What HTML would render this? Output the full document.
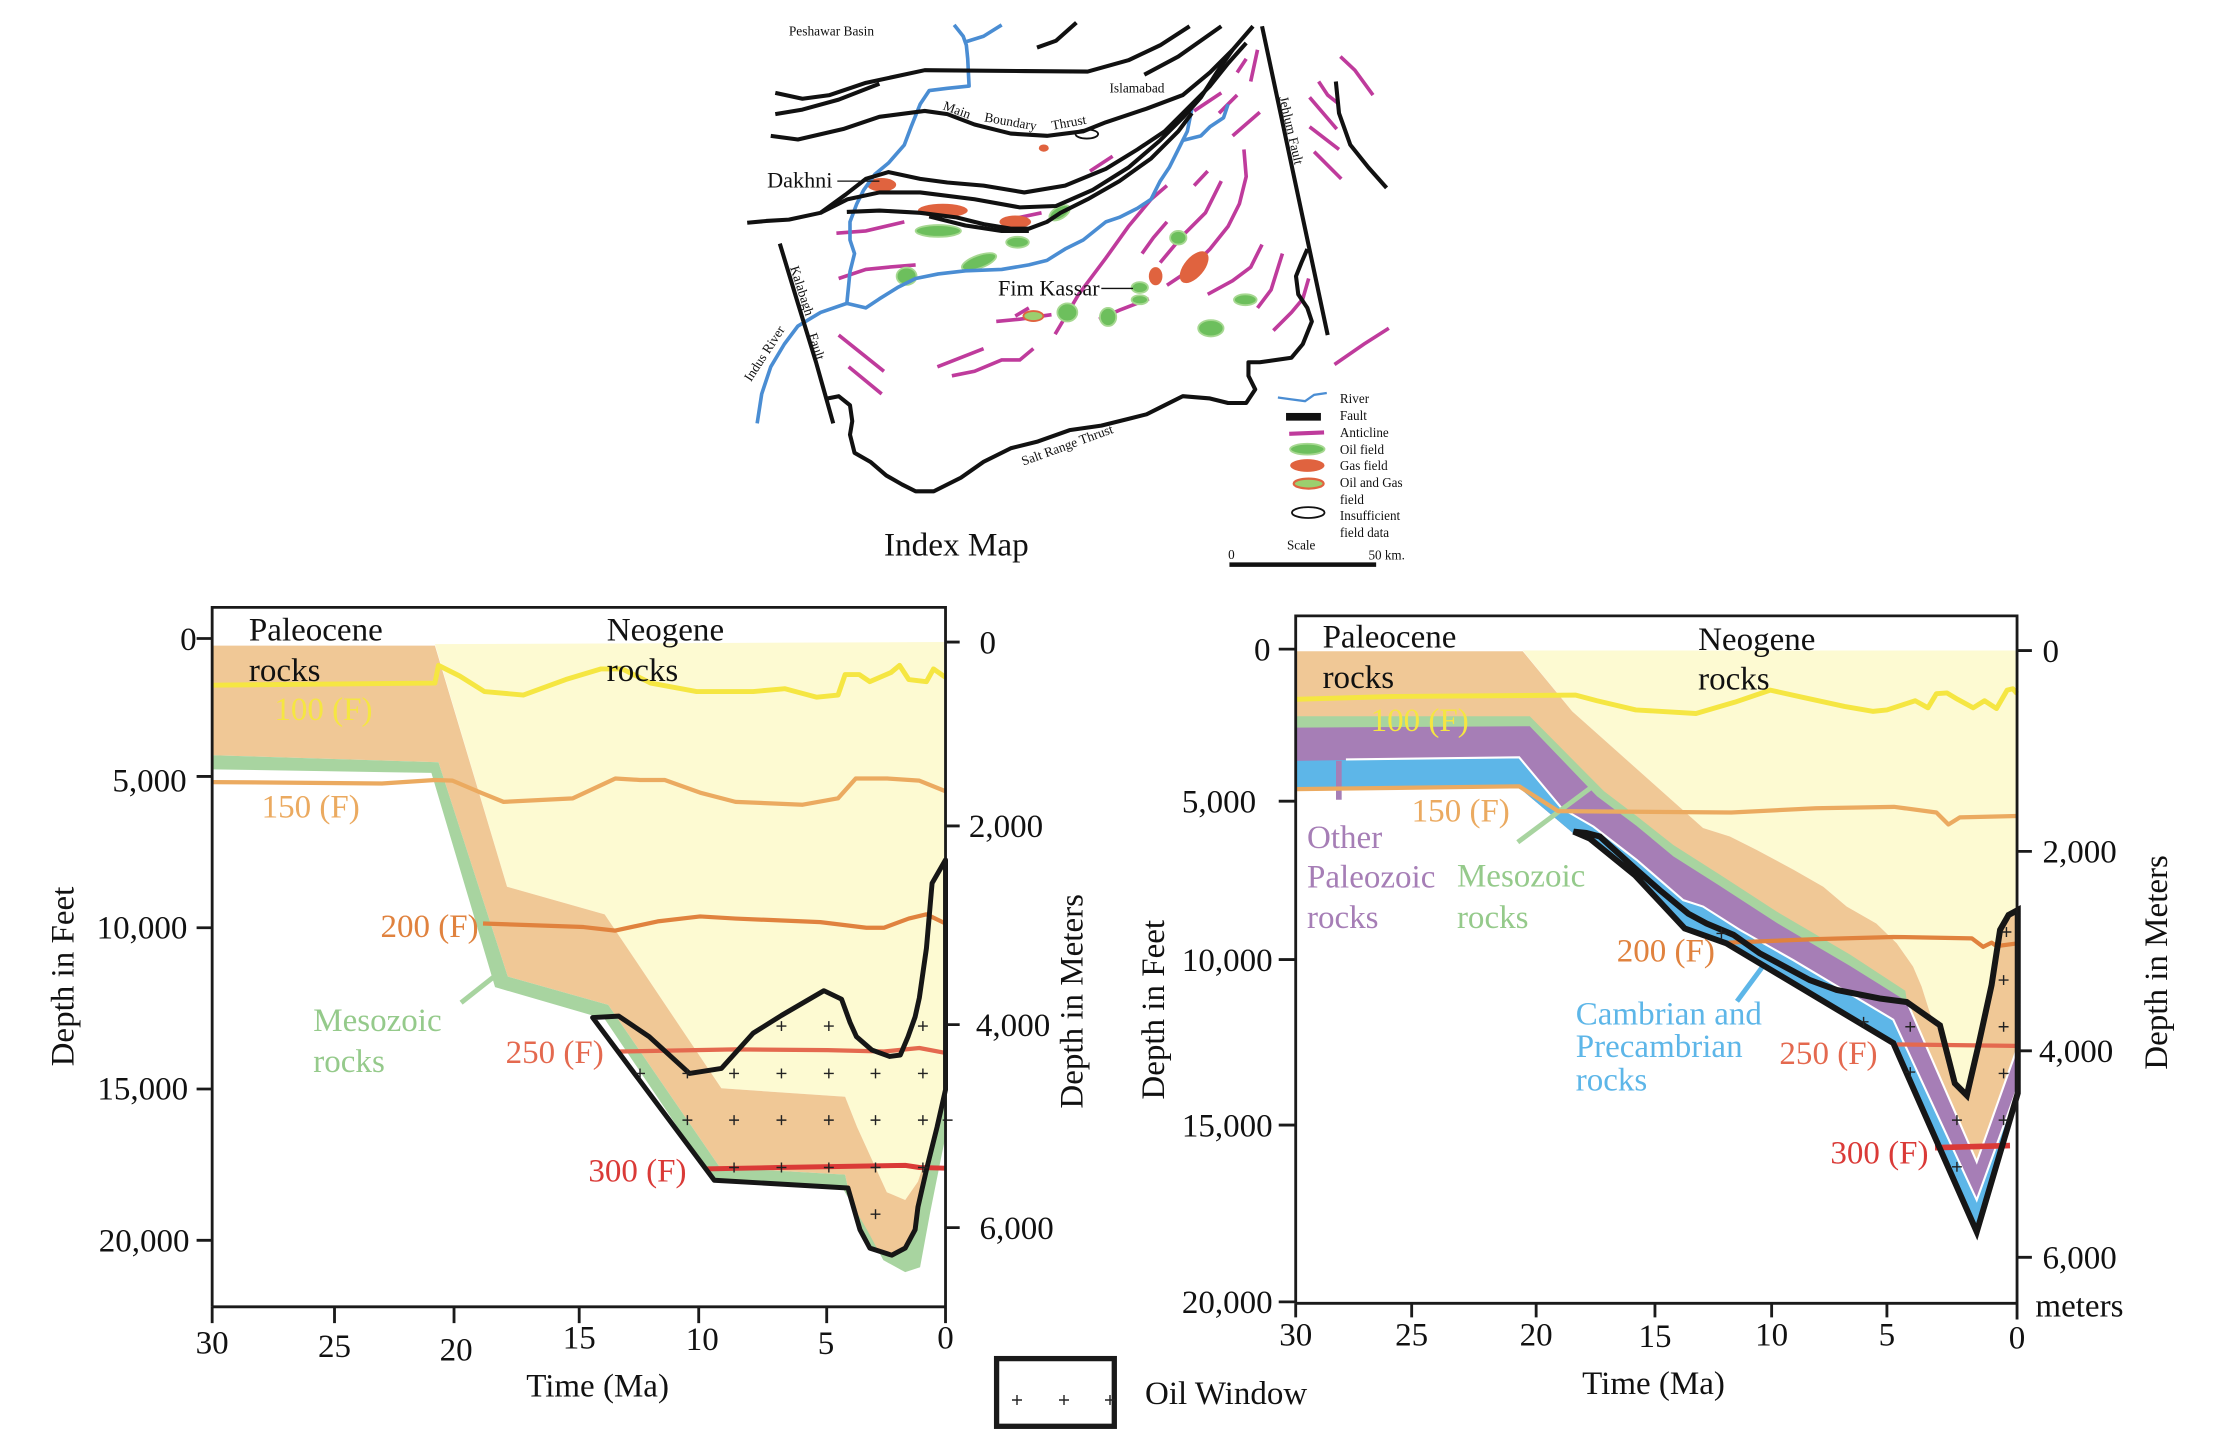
<!DOCTYPE html>
<html><head><meta charset="utf-8"><style>
html,body{margin:0;padding:0;background:#fff}
svg{display:block}
text{font-family:"Liberation Serif","Times New Roman",serif;fill:#111}
</style></head><body>
<svg width="2218" height="1442" xmlns="http://www.w3.org/2000/svg">
<rect width="2218" height="1442" fill="#fff"/>

<!-- ================= INDEX MAP ================= -->
<g transform="translate(730,0) scale(0.4528)">
 <g fill="none" stroke="#BF3B9C" stroke-width="8">
  <path d="M235,515 L300,510 L385,490"/>
  <path d="M240,615 L300,595 L350,590 L410,585"/>
  <path d="M795,378 L845,345"/>
  <path d="M1025,245 L1085,205"/>
  <path d="M1080,250 L1120,210"/>
  <path d="M1110,300 L1170,248"/>
  <path d="M1120,160 L1140,130"/>
  <path d="M1150,180 L1165,110"/>
  <path d="M1025,410 L1055,378"/>
  <path d="M910,560 L935,525 L965,490"/>
  <path d="M950,580 L1000,520 L1050,470 L1085,400"/>
  <path d="M965,630 L1010,600 L1060,550 L1100,500 L1125,450 L1140,390 L1135,330"/>
  <path d="M1055,650 L1110,620 L1150,590 L1175,540"/>
  <path d="M1165,680 L1195,640 L1220,560"/>
  <path d="M1200,730 L1240,690 L1265,660 L1278,615"/>
  <path d="M1335,805 L1400,760 L1455,725"/>
  <path d="M1300,180 L1320,210 L1345,230"/>
  <path d="M1280,215 L1340,285"/>
  <path d="M1280,280 L1345,330"/>
  <path d="M1290,335 L1350,395"/>
  <path d="M1348,125 L1380,155 L1420,210"/>
  <path d="M240,740 L290,780 L340,820"/>
  <path d="M262,810 L335,870"/>
  <path d="M458,810 L560,770"/>
  <path d="M490,830 L540,820 L600,795 L640,795 L670,770"/>
  <path d="M588,710 L640,705 L710,695"/>
  <path d="M718,738 L770,650 L830,570 L880,500 L930,440 L965,410"/>
  <path d="M815,705 L860,685 L925,660"/>
  <path d="M630,698 L660,680"/>
  <path d="M600,493 L640,480 L688,470"/>
 </g>
 <g stroke-width="4">
  <ellipse cx="460" cy="510" rx="50" ry="13" fill="#6DBF5D" stroke="#A6D891"/>
  <ellipse cx="635" cy="535" rx="25" ry="12" fill="#6DBF5D" stroke="#A6D891"/>
  <ellipse cx="550" cy="578" rx="40" ry="14" fill="#6DBF5D" stroke="#A6D891" transform="rotate(-20 550 578)"/>
  <ellipse cx="390" cy="610" rx="22" ry="19" fill="#6DBF5D" stroke="#A6D891"/>
  <ellipse cx="728" cy="470" rx="25" ry="13" fill="#6DBF5D" stroke="#A6D891" transform="rotate(-30 728 470)"/>
  <ellipse cx="990" cy="525" rx="18" ry="15" fill="#6DBF5D" stroke="#A6D891"/>
  <ellipse cx="905" cy="635" rx="18" ry="12" fill="#6DBF5D" stroke="#A6D891"/>
  <ellipse cx="905" cy="662" rx="18" ry="10" fill="#6DBF5D" stroke="#A6D891"/>
  <ellipse cx="745" cy="690" rx="22" ry="20" fill="#6DBF5D" stroke="#A6D891"/>
  <ellipse cx="835" cy="700" rx="18" ry="20" fill="#6DBF5D" stroke="#A6D891"/>
  <ellipse cx="1138" cy="662" rx="25" ry="12" fill="#6DBF5D" stroke="#A6D891"/>
  <ellipse cx="1062" cy="725" rx="28" ry="18" fill="#6DBF5D" stroke="#A6D891"/>
  <ellipse cx="335" cy="408" rx="32" ry="15" fill="#E0633F"/>
  <ellipse cx="470" cy="465" rx="55" ry="15" fill="#E0633F"/>
  <ellipse cx="630" cy="490" rx="35" ry="14" fill="#E0633F"/>
  <ellipse cx="940" cy="610" rx="15" ry="20" fill="#E0633F"/>
  <ellipse cx="1025" cy="590" rx="22" ry="42" fill="#E0633F" transform="rotate(40 1025 590)"/>
  <ellipse cx="693" cy="327" rx="11" ry="8" fill="#E0633F"/>
  <ellipse cx="670" cy="698" rx="22" ry="11" fill="#9BCF6E" stroke="#E0633F"/>
  <ellipse cx="788" cy="296" rx="25" ry="10" fill="#fff" stroke="#111"/>
 </g>
 <g fill="none" stroke="#4A8DD3" stroke-width="8" stroke-linejoin="round">
  <path d="M495,55 L515,80 L522,100 L525,130 L528,190 L480,195 L440,200 L420,230 L400,280 L385,320 L350,360 L320,385 L295,420 L280,450 L265,490 L265,530 L275,560 L265,600 L262,630 L258,670 L200,690 L150,720 L120,760 L90,810 L70,870 L60,935"/>
  <path d="M522,92 L560,80 L600,55"/>
  <path d="M258,670 L300,680 L330,660 L370,635 L410,615 L460,605 L520,598 L600,595 L660,585 L700,575 L740,550 L780,530 L830,490 L860,480 L900,460 L930,440 L950,400 L970,370 L990,330 L1000,310 L1010,290 L1020,240"/>
  <path d="M1000,310 L1040,300 L1060,280 L1090,260 L1100,230"/>
 </g>
 <g fill="none" stroke="#111" stroke-width="9" stroke-linejoin="round">
  <path d="M678,105 L720,90 L765,50"/>
  <path d="M100,205 L160,218 L220,210 L300,183 L430,155 L650,157 L790,158 L880,133 L950,100 L1015,58"/>
  <path d="M100,252 L160,242 L240,220 L330,185"/>
  <path d="M915,165 L990,125 L1085,58"/>
  <path d="M90,300 L150,308 L250,285 L330,258 L430,245 L480,252 L540,275 L620,295 L700,300 L780,290 L830,270 L920,240 L1000,210 L1060,160 L1110,110 L1155,58"/>
  <path d="M38,492 L80,488 L130,485 L200,470 L255,430 L300,395 L350,380 L420,395 L480,403 L560,410 L650,425 L740,410 L830,373 L900,330 L960,290 L1010,240 L1060,190 L1100,140 L1140,95"/>
  <path d="M200,470 L260,440 L330,425 L420,425 L540,440 L640,458 L720,455 L800,420 L880,370 L950,310 L1000,260 L1040,215 L1075,160 L1110,110"/>
  <path d="M258,468 L330,465 L420,470 L500,480 L560,495 L620,505 L660,505 L700,490 L730,470 L790,440 L860,400 L930,350 L990,290 L1020,250"/>
  <path d="M440,478 L520,498 L600,510 L660,510"/>
  <path d="M110,538 L150,670 L190,800 L228,935"/>
  <path d="M215,880 L240,875 L265,895 L270,930 L265,960 L275,1000 L310,1020 L345,1050 L380,1070 L410,1085 L450,1085 L510,1055 L560,1020 L620,990 L680,975 L750,950 L820,940 L880,925 L920,915 L960,895 L1000,875 L1060,880 L1100,890 L1140,890 L1160,860 L1145,830 L1145,800 L1170,800 L1240,790 L1265,760 L1285,710 L1275,680 L1255,650 L1250,610 L1262,580 L1275,550"/>
  <path d="M1175,58 L1320,740"/>
  <path d="M1338,180 L1345,250 L1370,320 L1410,370 L1450,415"/>
 </g>
 <g stroke="#111" stroke-width="3">
  <line x1="237" y1="400" x2="330" y2="400"/>
  <line x1="820" y1="637" x2="890" y2="637"/>
 </g>
 <g font-size="29.6">
  <text x="130" y="78">Peshawar Basin</text>
  <text x="838" y="204">Islamabad</text>
  <text transform="translate(498,252) rotate(20)" text-anchor="middle">Main</text>
  <text transform="translate(618,278) rotate(10)" text-anchor="middle">Boundary</text>
  <text transform="translate(750,280) rotate(-10)" text-anchor="middle">Thrust</text>
  <text transform="translate(150,645) rotate(72)" text-anchor="middle">Kalabagh</text>
  <text transform="translate(182,768) rotate(72)" text-anchor="middle">Fault</text>
  <text transform="translate(84,786) rotate(-57)" text-anchor="middle">Indus River</text>
  <text transform="translate(1230,290) rotate(77)" text-anchor="middle">Jehlum Fault</text>
  <text transform="translate(748,992) rotate(-20)" text-anchor="middle">Salt Range Thrust</text>
 </g>
 <g font-size="49">
  <text x="82" y="414">Dakhni</text>
  <text x="592" y="653">Fim Kassar</text>
 </g>
 <text x="340" y="1227" font-size="73.4">Index Map</text>
 <!-- legend -->
 <path d="M1210,878 L1240,882 L1270,886 L1290,872 L1318,868" fill="none" stroke="#4A8DD3" stroke-width="5"/>
 <rect x="1228" y="912" width="77" height="17" fill="#111"/>
 <line x1="1235" y1="958" x2="1312" y2="955" stroke="#BF3B9C" stroke-width="9"/>
 <ellipse cx="1275" cy="992" rx="38" ry="12" fill="#6DBF5D" stroke="#A6D891" stroke-width="4"/>
 <ellipse cx="1275" cy="1028" rx="38" ry="14" fill="#E0633F"/>
 <ellipse cx="1278" cy="1068" rx="33" ry="11" fill="#9BCF6E" stroke="#E0633F" stroke-width="5"/>
 <ellipse cx="1277" cy="1132" rx="36" ry="12" fill="#fff" stroke="#111" stroke-width="4"/>
 <g font-size="29">
  <text x="1347" y="890">River</text>
  <text x="1347" y="928">Fault</text>
  <text x="1347" y="965">Anticline</text>
  <text x="1347" y="1003">Oil field</text>
  <text x="1347" y="1038">Gas field</text>
  <text x="1347" y="1076">Oil and Gas</text>
  <text x="1347" y="1113">field</text>
  <text x="1347" y="1148">Insufficient</text>
  <text x="1347" y="1186">field data</text>
  <text x="1230" y="1214">Scale</text>
  <text x="1100" y="1234">0</text>
  <text x="1410" y="1236">50 km.</text>
 </g>
 <line x1="1103" y1="1247" x2="1427" y2="1247" stroke="#111" stroke-width="10"/>
</g>

<!-- ================= LEFT CHART ================= -->
<g transform="translate(0,333) scale(0.7072)">
 <polygon fill="#FDFAD2" points="615,440 1337,437 1337,1070 1311,1179 1305,1179 1298,1200 1280,1226 1254,1215 1233,1169 1212,1123 1195,1080 1020,1068 855,822 717,783"/>
 <polygon fill="#F0C896" points="300,442 615,442 717,783 855,822 1020,1068 1195,1080 1212,1123 1233,1169 1254,1215 1280,1226 1298,1200 1305,1179 1311,1179 1298,1236 1294,1268 1280,1294 1261,1304 1230,1294 1216,1268 1199,1209 1195,1190 1018,1180 860,950 718,910 620,607 300,597"/>
 <polygon fill="#A8D4A0" points="300,597 620,607 718,910 860,950 1018,1180 1195,1190 1199,1209 1216,1268 1230,1294 1261,1304 1280,1294 1294,1268 1298,1236 1311,1179 1325,1123 1336,1070 1339,1049 1339,1127 1332,1160 1315,1245 1301,1321 1280,1328 1249,1311 1226,1268 1192,1210 1010,1200 855,970 700,925 610,622 300,617"/>
 <g fill="none" stroke-linejoin="round">
  <polyline stroke="#F5E642" stroke-width="7" points="300,498 615,495 620,470 650,485 685,507 740,512 800,490 850,475 880,475 920,495 985,507 1065,507 1110,503 1155,515 1185,512 1195,483 1215,483 1230,493 1260,480 1272,470 1285,490 1310,493 1320,475 1337,487"/>
  <polyline stroke="#EBAA60" stroke-width="6" points="300,635 540,637 615,632 640,633 680,650 712,663 810,658 870,630 905,632 940,632 990,650 1040,663 1135,667 1185,658 1210,630 1255,630 1300,633 1337,648"/>
  <polyline stroke="#E0823E" stroke-width="6" points="683,835 825,840 870,845 930,832 990,825 1040,828 1160,833 1225,841 1250,841 1285,828 1310,822 1337,835"/>
  <polyline stroke="#E4694F" stroke-width="6" points="875,1016 1040,1013 1170,1014 1250,1016 1300,1011 1337,1018"/>
  <polyline stroke="#DA3A37" stroke-width="7" points="1000,1182 1100,1180 1280,1177 1300,1180 1337,1181"/>
  <line x1="652" y1="947" x2="705" y2="905" stroke="#A8D4A0" stroke-width="7"/>
 </g>
 <polygon fill="none" stroke="#161616" stroke-width="7" stroke-linejoin="round" points="838,968 875,966 918,995 975,1047 1020,1040 1065,990 1105,965 1165,930 1190,942 1202,975 1211,995 1233,1014 1258,1023 1273,1021 1284,995 1294,967 1300,940 1310,870 1318,778 1337,745 1337,1070 1325,1123 1311,1179 1298,1236 1294,1268 1280,1294 1261,1304 1230,1294 1216,1268 1199,1209 1010,1198"/>
 <path fill="none" stroke="#222" stroke-width="2" d="M1098,980h14M1105,973v14 M1165,980h14M1172,973v14 M1298,980h14M1305,973v14
 M898,1047h14M905,1040v14 M965,1047h14M972,1040v14 M1031,1047h14M1038,1040v14 M1098,1047h14M1105,1040v14 M1165,1047h14M1172,1040v14 M1231,1047h14M1238,1040v14 M1298,1047h14M1305,1040v14
 M965,1113h14M972,1106v14 M1031,1113h14M1038,1106v14 M1098,1113h14M1105,1106v14 M1165,1113h14M1172,1106v14 M1231,1113h14M1238,1106v14 M1298,1113h14M1305,1106v14 M1333,1113h14
 M1031,1180h14M1038,1173v14 M1098,1180h14M1105,1173v14 M1165,1180h14M1172,1173v14 M1231,1180h14M1238,1173v14 M1298,1180h14M1305,1173v14
 M1231,1246h14M1238,1239v14"/>
 <g stroke="#1a1a1a" stroke-width="4" fill="none">
  <path d="M300,1377 L300,388 L1337,388 L1337,1400"/>
  <path d="M300,1377 L1337,1377"/>
  <path d="M278,432H300M278,627H300M278,841H300M278,1069H300M278,1283H300"/>
  <path d="M1337,437H1357M1337,697H1357M1337,978H1357M1337,1265H1357"/>
  <path d="M300,1377V1400M473,1377V1400M642,1377V1400M819,1377V1400M988,1377V1400M1169,1377V1400"/>
 </g>
 <g font-size="46.7">
  <text x="278" y="448" text-anchor="end">0</text>
  <text x="264" y="648" text-anchor="end">5,000</text>
  <text x="265" y="856" text-anchor="end">10,000</text>
  <text x="266" y="1084" text-anchor="end">15,000</text>
  <text x="268" y="1299" text-anchor="end">20,000</text>
  <text x="1385" y="453">0</text>
  <text x="1370" y="713">2,000</text>
  <text x="1380" y="994">4,000</text>
  <text x="1385" y="1281">6,000</text>
  <text x="300" y="1443" text-anchor="middle">30</text>
  <text x="473" y="1448" text-anchor="middle">25</text>
  <text x="645" y="1453" text-anchor="middle">20</text>
  <text x="819" y="1436" text-anchor="middle">15</text>
  <text x="993" y="1438" text-anchor="middle">10</text>
  <text x="1168" y="1444" text-anchor="middle">5</text>
  <text x="1337" y="1436" text-anchor="middle">0</text>
  <text x="845" y="1504" text-anchor="middle">Time (Ma)</text>
  <text transform="translate(104,910) rotate(-90)" text-anchor="middle">Depth in Feet</text>
  <text transform="translate(1531,945) rotate(-90)" text-anchor="middle">Depth in Meters</text>
  <text x="352" y="435">Paleocene</text>
  <text x="352" y="492">rocks</text>
  <text x="858" y="435">Neogene</text>
  <text x="858" y="492">rocks</text>
  <text x="388" y="547" style="fill:#F5E642">100 (F)</text>
  <text x="370" y="685" style="fill:#EBAA60">150 (F)</text>
  <text x="538" y="854" style="fill:#E0823E">200 (F)</text>
  <text x="715" y="1032" style="fill:#E4694F">250 (F)</text>
  <text x="832" y="1200" style="fill:#DA3A37">300 (F)</text>
  <text x="443" y="987" style="fill:#95CA8B">Mesozoic</text>
  <text x="443" y="1045" style="fill:#95CA8B">rocks</text>
 </g>
</g>

<!-- ================= LEGEND ================= -->
<rect x="996.6" y="1358.6" width="117.7" height="67.7" fill="#fff" stroke="#1a1a1a" stroke-width="5.3"/>
<path d="M1012,1400h10M1017,1395v10M1059,1400h10M1064,1395v10M1105,1400h10M1110,1395v10" stroke="#222" stroke-width="1.4"/>
<text x="1145" y="1404" font-size="33">Oil Window</text>

<!-- ================= RIGHT CHART ================= -->
<g transform="translate(1109,333) scale(0.7072)">
 <polygon fill="#FDFAD2" points="585,449 1284,449 1285,816 1272,823 1260,844 1248,922 1229,1009 1213,1078 1196,1061 1180,1000 1161,962 1149,924 1137,896 1114,863 1085,835 1043,811 1010,783 968,759 916,731 878,712 840,700 655,535"/>
 <polygon fill="#F0C896" points="264,450 585,450 655,535 840,700 878,712 916,731 968,759 1010,783 1043,811 1085,835 1114,863 1137,896 1149,924 1161,962 1180,1000 1196,1061 1213,1078 1229,1009 1248,922 1260,844 1272,823 1285,816 1285,1075 1227,1271 1109,1004 873,863 814,842 744,767 680,715 656,707 580,643 264,647"/>
 <polygon fill="#A8D4A0" points="264,542 595,542 700,648 746,683 798,724 864,766 944,818 1048,879 1126,930 1128,943 1227,1172 1285,1009 1285,1075 1227,1271 1109,1004 873,863 814,842 744,767 680,715 656,707 580,643 264,647"/>
 <polygon fill="#A67EB6" points="264,558 595,556 690,655 746,697 798,740 864,782 944,834 1048,895 1128,945 1227,1172 1285,1009 1285,1075 1227,1271 1109,1004 873,863 814,842 744,767 680,715 656,707 580,643 264,647"/>
 <polyline fill="none" stroke="#fff" stroke-width="3" points="1128,945 1227,1172 1285,1009"/>
 <polygon fill="#5DB6E8" points="264,605 580,600 640,672 685,698 746,745 812,802 840,811 892,844 968,887 1109,971 1227,1226 1285,1066 1285,1075 1227,1271 1109,1004 873,863 814,842 744,767 680,715 656,707 580,643 264,647"/>
 <polyline fill="none" stroke="#fff" stroke-width="3" points="335,603 580,600 640,672 685,698 746,745 812,802 840,811 892,844 968,887 1109,971 1227,1226 1285,1066"/>
 <g fill="none" stroke-linejoin="round">
  <line x1="325" y1="605" x2="325" y2="660" stroke="#A67EB6" stroke-width="8"/>
  <line x1="578" y1="720" x2="688" y2="638" stroke="#A8D4A0" stroke-width="7"/>
  <line x1="888" y1="945" x2="925" y2="895" stroke="#5DB6E8" stroke-width="7"/>
  <polyline stroke="#F5E642" stroke-width="7" points="264,518 400,514 660,512 690,520 745,533 830,538 885,522 935,505 980,515 1040,528 1080,535 1100,533 1140,520 1158,530 1170,510 1185,509 1200,518 1222,530 1238,520 1255,531 1270,505 1278,503 1284,510"/>
  <polyline stroke="#EBAA60" stroke-width="6" points="264,645 580,641 635,676 880,678 1000,672 1110,670 1170,678 1187,695 1203,685 1284,683"/>
  <polyline stroke="#E0823E" stroke-width="6" points="876,862 1000,857 1109,854 1220,856 1236,868 1248,862 1255,867 1285,863"/>
  <polyline stroke="#E4694F" stroke-width="6" points="1114,1006 1281,1008"/>
  <polyline stroke="#DA3A37" stroke-width="8" points="1168,1152 1274,1149"/>
 </g>
 <polygon fill="none" stroke="#161616" stroke-width="8.5" stroke-linejoin="miter" points="657,705 675,707 694,712 746,759 779,788 819,821 845,835 883,851 920,877 991,915 1029,929 1090,941 1128,946 1175,979 1196,1061 1213,1078 1229,1009 1248,922 1260,844 1272,823 1285,816 1285,1075 1227,1271 1109,1004 873,863 814,842 744,767 680,715"/>
 <path fill="none" stroke="#222" stroke-width="2" d="M859,849h14M866,842v14 M1060,974h14M1067,967v14 M1126,981h14M1133,974v14 M1258,915h14M1265,908v14 M1258,981h14M1265,974v14 M1126,1045h14M1133,1038v14 M1258,1047h14M1265,1040v14 M1192,1113h14M1199,1106v14 M1258,1113h14M1265,1106v14 M1192,1179h14M1199,1172v14 M1262,847h14M1269,840v14"/>
 <g stroke="#1a1a1a" stroke-width="4" fill="none">
  <path d="M264,1372 L264,400 L1284,400 L1284,1395"/>
  <path d="M264,1372 L1284,1372"/>
  <path d="M240,447H264M240,662H264M240,886H264M240,1120H264M240,1370H264"/>
  <path d="M1284,449H1305M1284,733H1305M1284,1015H1305M1284,1307H1305"/>
  <path d="M264,1372V1392M428,1372V1392M604,1372V1392M772,1372V1392M937,1372V1392M1100,1372V1392"/>
 </g>
 <g font-size="46.7">
  <text x="205" y="463">0</text>
  <text x="103" y="678">5,000</text>
  <text x="103" y="902">10,000</text>
  <text x="103" y="1136">15,000</text>
  <text x="103" y="1386">20,000</text>
  <text x="1320" y="465">0</text>
  <text x="1320" y="749">2,000</text>
  <text x="1315" y="1031">4,000</text>
  <text x="1320" y="1323">6,000</text>
  <text x="1310" y="1391">meters</text>
  <text x="264" y="1432" text-anchor="middle">30</text>
  <text x="428" y="1432" text-anchor="middle">25</text>
  <text x="604" y="1432" text-anchor="middle">20</text>
  <text x="772" y="1434" text-anchor="middle">15</text>
  <text x="937" y="1432" text-anchor="middle">10</text>
  <text x="1100" y="1432" text-anchor="middle">5</text>
  <text x="1284" y="1436" text-anchor="middle">0</text>
  <text x="770" y="1500" text-anchor="middle">Time (Ma)</text>
  <text transform="translate(78,957) rotate(-90)" text-anchor="middle">Depth in Feet</text>
  <text transform="translate(1496,890) rotate(-90)" text-anchor="middle">Depth in Meters</text>
  <text x="302" y="445">Paleocene</text>
  <text x="302" y="502">rocks</text>
  <text x="833" y="448">Neogene</text>
  <text x="833" y="504">rocks</text>
  <text x="370" y="563" style="fill:#F5E642">100 (F)</text>
  <text x="428" y="691" style="fill:#EBAA60">150 (F)</text>
  <text x="280" y="728" style="fill:#A67EB6">Other</text>
  <text x="280" y="784" style="fill:#A67EB6">Paleozoic</text>
  <text x="280" y="841" style="fill:#A67EB6">rocks</text>
  <text x="492" y="783" style="fill:#95CA8B">Mesozoic</text>
  <text x="492" y="841" style="fill:#95CA8B">rocks</text>
  <text x="718" y="889" style="fill:#E0823E">200 (F)</text>
  <text x="660" y="978" style="fill:#5DB6E8">Cambrian and</text>
  <text x="660" y="1024" style="fill:#5DB6E8">Precambrian</text>
  <text x="660" y="1071" style="fill:#5DB6E8">rocks</text>
  <text x="948" y="1034" style="fill:#E4694F">250 (F)</text>
  <text x="1020" y="1174" style="fill:#DA3A37">300 (F)</text>
 </g>
</g>
</svg>
</body></html>
